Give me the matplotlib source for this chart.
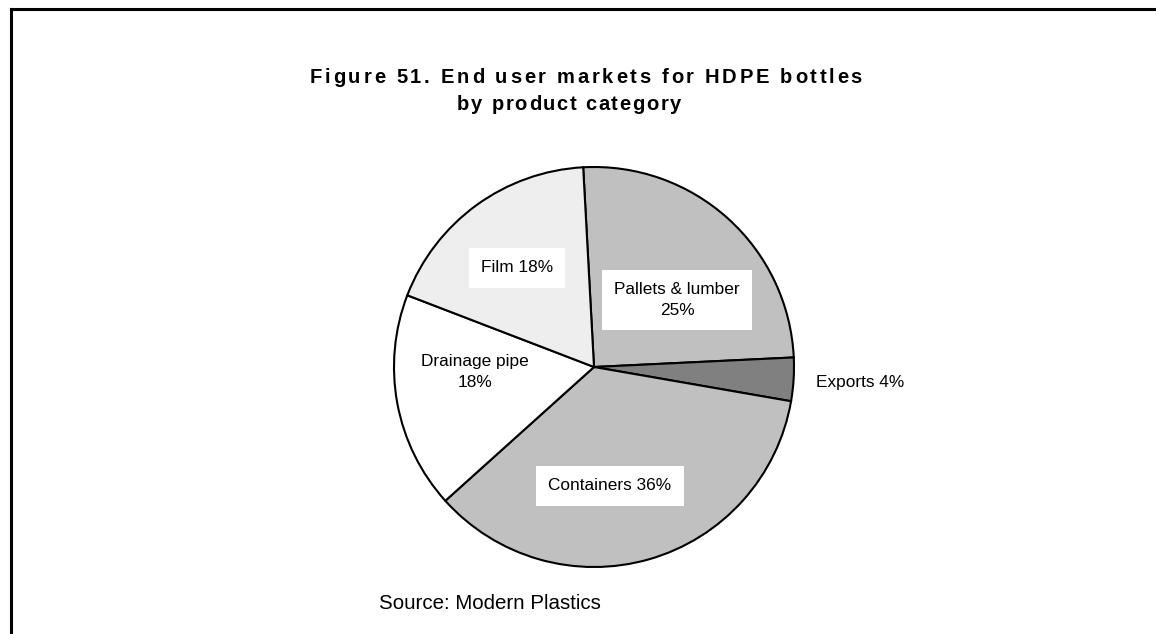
import matplotlib
matplotlib.use("Agg")
import matplotlib.pyplot as plt
from matplotlib.font_manager import FontProperties
from matplotlib.lines import Line2D

W, H, DPI = 1156, 634, 100

categories = ["Pallets & lumber", "Exports", "Containers", "Drainage pipe", "Film"]
shares = [25.1, 3.5, 35.6, 17.5, 18.3]
labels = ["Pallets & lumber\n25%", "Exports 4%", "Containers 36%", "Drainage pipe\n18%", "Film 18%"]
title_lines = ["Figure 51. End user markets for HDPE bottles", "by product category"]
source_note = "Source: Modern Plastics"

# styling / layout
colors = ["#c0c0c0", "#808080", "#c0c0c0", "#ffffff", "#eeeeee"]
label_pos = [(0.415, 0.335), (1.33, -0.08), (0.08, -0.595), (-0.595, -0.025), (-0.385, 0.495)]
label_box = [True, False, True, False, True]
PIE_CX, PIE_CY, PIE_R = 594, 367, 200  # pixels


def _advance(renderer, ch, fp):
    w_with, _, _ = renderer.get_text_width_height_descent("|" + ch + "|", fp, ismath=False)
    w_bars, _, _ = renderer.get_text_width_height_descent("||", fp, ismath=False)
    return w_with - w_bars


def tracked_text(fig, text, x0, x1, y, fp):
    # letter-spaced line running from x0 to x1 (pixels, baseline at y)
    r = fig.canvas.get_renderer()
    widths = [_advance(r, ch, fp) for ch in text]
    gap = (x1 - x0 - sum(widths)) / (len(text) - 1)
    x = x0
    for ch, w in zip(text, widths):
        fig.text(x / W, 1 - y / H, ch, fontproperties=fp, ha="left", va="baseline", color="black")
        x += w + gap


fig = plt.figure(figsize=(W / DPI, H / DPI), dpi=DPI, facecolor="white")
ax = fig.add_axes([(PIE_CX - PIE_R) / W, (H - PIE_CY - PIE_R) / H, 2 * PIE_R / W, 2 * PIE_R / H])
ax.pie(shares, colors=colors, startangle=93.1, counterclock=False, radius=1.0,
       wedgeprops=dict(edgecolor="black", linewidth=1.5))
ax.set_xlim(-1, 1)
ax.set_ylim(-1, 1)
ax.set_aspect("equal")
ax.axis("off")

label_fp = FontProperties(family="Liberation Sans", size=12.4)
for txt, (x, y), boxed in zip(labels, label_pos, label_box):
    kw = {}
    if boxed:
        kw["bbox"] = dict(boxstyle="square,pad=0.7", fc="white", ec="none")
    ax.text(x, y, txt, ha="center", va="center", multialignment="center",
            linespacing=1.55, fontproperties=label_fp, color="black", **kw)

title_fp = FontProperties(family="Liberation Sans", weight="bold", size=14.5)
tracked_text(fig, title_lines[0], 310, 862, 83, title_fp)
tracked_text(fig, title_lines[1], 457, 681, 110, title_fp)

fig.text(379 / W, 1 - 609 / H, source_note, ha="left", va="baseline",
         fontproperties=FontProperties(family="Liberation Sans", size=14.8), color="black")

# frame: only the top and left edges show in the crop
fig.add_artist(Line2D([10.5 / W, 1], [1 - 8.7 / H] * 2, transform=fig.transFigure,
                      color="black", lw=2.2, solid_capstyle="projecting"))
fig.add_artist(Line2D([10.5 / W] * 2, [1 - 8.7 / H, 0], transform=fig.transFigure,
                      color="black", lw=2.2, solid_capstyle="projecting"))

fig.savefig("out.png", dpi=DPI, facecolor="white")
plt.close(fig)
